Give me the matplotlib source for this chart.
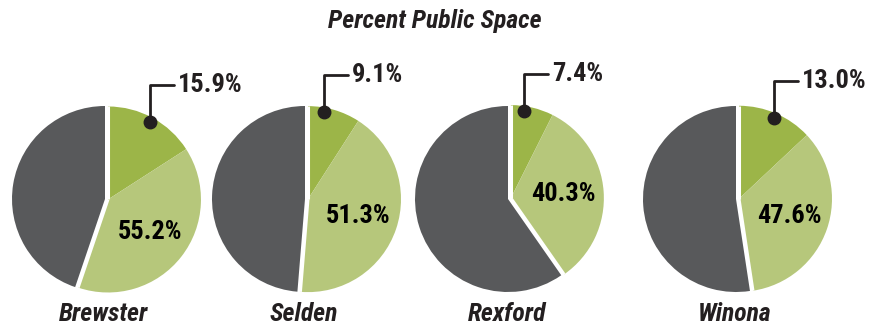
import numpy as np
import matplotlib.pyplot as plt

# share of each site that is public space, and the part of it in the darker slice
towns = ["Brewster", "Selden", "Rexford", "Winona"]
public_pct = [55.2, 51.3, 40.3, 47.6]
inner_pct = [15.9, 9.1, 7.4, 13.0]

# layout in pixels (figure is 885 x 328, y measured up from the bottom)
W, H = 885, 328
cx = [105, 305, 508, 736]
cy = 129
R = 93
shift = 3.0

gray = "#58595b"
dkgreen = "#9cb548"
ltgreen = "#b6c77b"
ink = "#231f20"
fam = ["Roboto Condensed", "DejaVu Sans"]

fig = plt.figure(figsize=(W / 100, H / 100), dpi=100)
ax = fig.add_axes([0, 0, 1, 1])

for i, town in enumerate(towns):
    sm = inner_pct[i]
    lt = public_pct[i] - inner_pct[i]
    rest = 100 - public_pct[i]
    wedges, _ = ax.pie([sm, lt, rest], colors=[dkgreen, ltgreen, gray],
                       startangle=90, counterclock=False,
                       center=(cx[i], cy), radius=R,
                       wedgeprops=dict(linewidth=0))
    # pull the public part away from the rest a little
    mid = np.radians(90 - 3.6 * public_pct[i] / 2)
    off = np.array([np.cos(mid), np.sin(mid)]) * shift
    gc = np.array([cx[i], cy]) + off
    for w in wedges[:2]:
        w.set_center(tuple(gc))
    # gap on the two straight edges of the green block
    for ang in (90, 90 - 3.6 * public_pct[i]):
        a = np.radians(ang)
        ax.plot([gc[0], gc[0] + R * np.cos(a)], [gc[1], gc[1] + R * np.sin(a)],
                color="white", lw=2.2, solid_capstyle="butt", zorder=3)

    # value of the whole public part
    a = np.radians(90 - 3.6 * (sm + lt / 2))
    ax.text(gc[0] + 0.57 * R * np.cos(a), gc[1] + 0.57 * R * np.sin(a),
            f"{public_pct[i]:.1f}%", ha="center", va="center", fontsize=19,
            fontweight="bold", color="black", family=fam, zorder=5)

    # callout for the smaller slice
    half = 3.6 * sm / 2
    a = np.radians(90 - (half if half > 20 else 0.65 * half))
    dot = (gc[0] + 0.95 * R * np.cos(a), gc[1] + 0.95 * R * np.sin(a))
    ax.plot(*dot, "o", color=ink, ms=9, zorder=6)
    ax.annotate(f"{sm:.1f}%", xy=dot, xytext=(dot[0] + 28, dot[1] + 37),
                ha="left", va="center", fontsize=19, fontweight="bold",
                color=ink, family=fam, zorder=6,
                arrowprops=dict(arrowstyle="-", color=ink, lw=2,
                                shrinkA=1, shrinkB=0,
                                connectionstyle="angle,angleA=0,angleB=90,rad=0"))

    ax.text(cx[i] - 1, 14, town, ha="center", va="center", fontsize=18.5,
            fontweight="bold", style="italic", color=ink, family=fam)

ax.text(435, H - 21, "Percent Public Space", ha="center", va="center",
        fontsize=18.5, fontweight="bold", style="italic", color=ink, family=fam)

ax.set_xlim(0, W)
ax.set_ylim(0, H)
ax.set_aspect("equal")
ax.axis("off")
fig.savefig("out.png", dpi=100)
